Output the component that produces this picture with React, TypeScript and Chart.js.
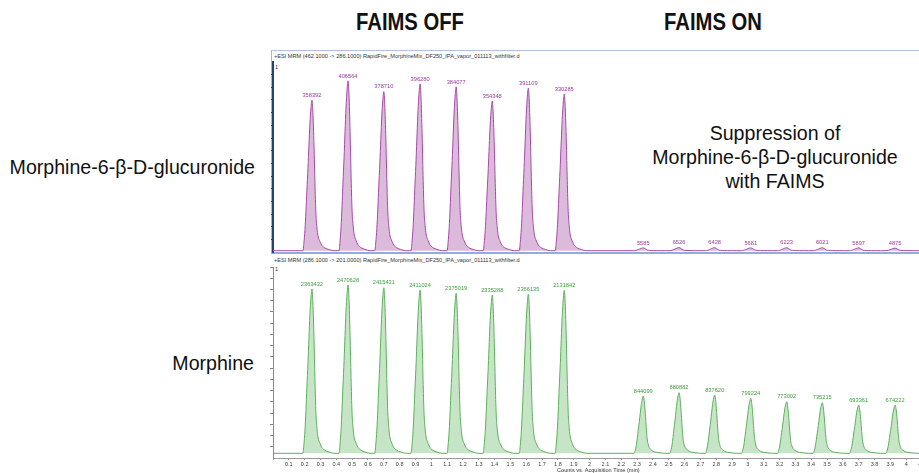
import React, { useEffect, useRef } from "react";
import { Chart, registerables } from "chart.js";

Chart.register(...registerables);

// ---- Data ----
const X_MIN = 0;
const X_MAX = 4.1;
const X_TICK_STEP = 0.1;

// retention times (min) of injections
const PEAK_TIMES_OFF = [0.246, 0.474, 0.7, 0.929, 1.157, 1.385, 1.613, 1.84];
const PEAK_TIMES_ON = [2.339, 2.565, 2.79, 3.018, 3.245, 3.47, 3.7, 3.93];

// Morphine-6-β-D-glucuronide (462.1 -> 286.1)
const M6G_HEIGHTS_OFF = [350000, 395000, 370000, 388000, 381000, 348000, 378000, 364000];
const M6G_LABELS_OFF = ["358392", "406564", "378710", "396280", "384077", "354348", "391109", "330285"];
const M6G_HEIGHTS_ON = [6500, 7200, 7000, 6500, 6900, 6800, 6600, 5800];
const M6G_LABELS_ON = ["5585", "6526", "6428", "5681", "6223", "6021", "5897", "4875"];

// Morphine (286.1 -> 201.0)
const MOR_HEIGHTS_OFF = [2143000, 2195000, 2160000, 2130000, 2087000, 2065000, 2074000, 2126000];
const MOR_LABELS_OFF = ["2363432", "2470628", "2415431", "2411024", "2375019", "2335288", "2366135", "2131842"];
const MOR_HEIGHTS_ON = [747000, 790000, 760000, 717000, 673000, 660000, 630000, 630000];
const MOR_LABELS_ON = ["844099", "880882", "837620", "799224", "773002", "735215", "693361", "674222"];

// peak profile (time offset in min, relative intensity)
const SHAPE_DT = [-0.057, -0.051, -0.044, -0.038, -0.032, -0.025, -0.019, -0.013, -0.006, 0, 0.006, 0.013, 0.019, 0.025, 0.032, 0.038, 0.051, 0.063, 0.082, 0.107, 0.139];
const SHAPE_REL = [0, 0.05, 0.14, 0.26, 0.4, 0.55, 0.7, 0.84, 0.95, 1, 0.92, 0.7, 0.45, 0.25, 0.15, 0.1, 0.06, 0.035, 0.018, 0.008, 0];

// y-axis ranges (counts)
const M6G_Y_MIN = -3023;
const M6G_Y_MAX = 438837;
const M6G_Y_STEP = 30000;
const MOR_Y_MIN = -61300;
const MOR_Y_MAX = 2430000;
const MOR_Y_STEP = 150000;

const TOP_HEADER = "+ESI MRM (462.1000 -> 286.1000) RapidFire_MorphineMix_DF250_IPA_vapor_011113_withfilter.d";
const BOTTOM_HEADER = "+ESI MRM (286.1000 -> 201.0000) RapidFire_MorphineMix_DF250_IPA_vapor_011113_withfilter.d";
const X_TITLE = "Counts vs. Acquisition Time (min)";

type Peak = { t: number; h: number; text: string };

function makePeaks(times: number[], heights: number[], labels: string[]): Peak[] {
  return times.map((t, i) => ({ t, h: heights[i], text: labels[i] }));
}

function buildTrace(peaks: Peak[]) {
  const pts: { x: number; y: number }[] = [{ x: X_MIN, y: 0 }];
  peaks.forEach((p) => {
    SHAPE_DT.forEach((dt, k) => pts.push({ x: p.t + dt, y: p.h * SHAPE_REL[k] }));
  });
  pts.push({ x: X_MAX, y: 0 });
  pts.sort((a, b) => a.x - b.x);
  return pts;
}

const TEXT_FONT = "'Liberation Sans', Arial, sans-serif";

function peakLabelPlugin(peaks: Peak[], color: string) {
  return {
    id: "peakLabels",
    afterDatasetsDraw(chart: any) {
      const { ctx, scales } = chart;
      ctx.save();
      ctx.font = `5.7px ${TEXT_FONT}`;
      ctx.fillStyle = color;
      ctx.textAlign = "center";
      ctx.textBaseline = "bottom";
      peaks.forEach((p) => {
        const x = scales.x.getPixelForValue(p.t);
        const y = scales.y.getPixelForValue(p.h);
        ctx.fillText(p.text, x, y - 2);
      });
      ctx.restore();
    },
  };
}

function fmtTick(v: number) {
  if (Math.abs(v) < 1e-9) return "";
  return String(Number(v.toFixed(1)));
}

function useChart(
  ref: React.RefObject<HTMLCanvasElement>,
  build: (c: HTMLCanvasElement) => Chart
) {
  useEffect(() => {
    if (!ref.current) return;
    const ch = build(ref.current);
    return () => ch.destroy();
  }, []);
}

export default function App() {
  const topRef = useRef<HTMLCanvasElement>(null);
  const botRef = useRef<HTMLCanvasElement>(null);

  useEffect(() => {
    document.body.style.margin = "0";
  }, []);

  useChart(topRef as any, (c) => {
    const peaks = [
      ...makePeaks(PEAK_TIMES_OFF, M6G_HEIGHTS_OFF, M6G_LABELS_OFF),
      ...makePeaks(PEAK_TIMES_ON, M6G_HEIGHTS_ON, M6G_LABELS_ON),
    ];
    return new Chart(c, {
      type: "line",
      data: {
        datasets: [
          {
            data: buildTrace(peaks),
            borderColor: "#a64aa6",
            backgroundColor: "#dcbadc",
            fill: "origin",
            borderWidth: 1,
            pointRadius: 0,
            cubicInterpolationMode: "monotone",
          },
        ],
      },
      options: {
        animation: false,
        responsive: false,
        devicePixelRatio: 1,
        events: [],
        layout: { padding: { left: 0, right: 12, top: 4, bottom: 2 } },
        plugins: { legend: { display: false }, tooltip: { enabled: false } },
        scales: {
          x: { type: "linear", min: X_MIN, max: X_MAX, display: false },
          y: {
            type: "linear",
            min: M6G_Y_MIN,
            max: M6G_Y_MAX,
            border: { color: "#23407a", width: 2 },
            grid: { drawOnChartArea: false, tickLength: 2, color: "#23407a" },
            ticks: { display: false, stepSize: M6G_Y_STEP },
            afterBuildTicks: (s: any) => {
              s.ticks = s.ticks.filter((t: any) => t.value >= 0 && t.value < M6G_Y_MAX - 1000);
            },
            afterFit: (s: any) => {
              s.width = 11;
            },
          },
        },
      } as any,
      plugins: [peakLabelPlugin(peaks, "#9a3a9a")],
    });
  });

  useChart(botRef as any, (c) => {
    const peaks = [
      ...makePeaks(PEAK_TIMES_OFF, MOR_HEIGHTS_OFF, MOR_LABELS_OFF),
      ...makePeaks(PEAK_TIMES_ON, MOR_HEIGHTS_ON, MOR_LABELS_ON),
    ];
    return new Chart(c, {
      type: "line",
      data: {
        datasets: [
          {
            data: buildTrace(peaks),
            borderColor: "#5cb05c",
            backgroundColor: "#c6e5c6",
            fill: "origin",
            borderWidth: 1,
            pointRadius: 0,
            cubicInterpolationMode: "monotone",
          },
        ],
      },
      options: {
        animation: false,
        responsive: false,
        devicePixelRatio: 1,
        events: [],
        layout: { padding: { left: 0, right: 12, top: 5, bottom: 0 } },
        plugins: { legend: { display: false }, tooltip: { enabled: false } },
        scales: {
          x: {
            type: "linear",
            min: X_MIN,
            max: X_MAX,
            border: { color: "#9a9a9a", width: 1 },
            grid: { drawOnChartArea: false, tickLength: 2, color: "#9a9a9a" },
            ticks: {
              stepSize: X_TICK_STEP,
              autoSkip: false,
              maxRotation: 0,
              padding: 1,
              color: "#444",
              font: { size: 5.5, family: TEXT_FONT },
              callback: (v: any) => fmtTick(Number(v)),
            },
            afterFit: (s: any) => {
              s.height = 15;
            },
          },
          y: {
            type: "linear",
            min: MOR_Y_MIN,
            max: MOR_Y_MAX,
            border: { color: "#8a8a8a", width: 1 },
            grid: { drawOnChartArea: false, tickLength: 3, color: "#8a8a8a" },
            ticks: { display: false, stepSize: MOR_Y_STEP },
            afterBuildTicks: (s: any) => {
              s.ticks = s.ticks.filter((t: any) => t.value >= 0 && t.value < MOR_Y_MAX + 1);
            },
            afterFit: (s: any) => {
              s.width = 11;
            },
          },
        },
      } as any,
      plugins: [peakLabelPlugin(peaks, "#3e9c3e")],
    });
  });

  const abs = (s: React.CSSProperties): React.CSSProperties => ({ position: "absolute", ...s });
  const bigText: React.CSSProperties = {
    fontFamily: TEXT_FONT,
    fontSize: 19.6,
    color: "#111",
    whiteSpace: "nowrap",
    lineHeight: "24px",
  };
  const titleText: React.CSSProperties = {
    fontFamily: TEXT_FONT,
    fontWeight: "bold",
    fontSize: 23,
    color: "#111",
    whiteSpace: "nowrap",
    lineHeight: "24px",
    transform: "scaleX(0.88)",
    transformOrigin: "center",
  };
  const smallText: React.CSSProperties = {
    fontFamily: TEXT_FONT,
    fontSize: 5.6,
    color: "#333",
    whiteSpace: "nowrap",
    lineHeight: "7px",
  };

  return (
    <div
      style={{
        position: "fixed",
        left: 0,
        top: 0,
        width: 919,
        height: 473,
        overflow: "hidden",
        background: "#fff",
      }}
    >
      <div style={abs({ left: 260, top: 10, width: 300, textAlign: "center", ...titleText })}>FAIMS OFF</div>
      <div style={abs({ left: 563, top: 10, width: 300, textAlign: "center", ...titleText })}>FAIMS ON</div>

      <div style={abs({ right: 919 - 255, top: 155, textAlign: "right", ...bigText })}>Morphine-6-β-D-glucuronide</div>
      <div style={abs({ right: 919 - 254, top: 351, textAlign: "right", ...bigText })}>Morphine</div>

      <div style={abs({ left: 625, top: 121, width: 300, textAlign: "center", ...bigText })}>
        Suppression of
        <br />
        Morphine-6-β-D-glucuronide
        <br />
        with FAIMS
      </div>

      {/* top panel frame */}
      <div
        style={abs({
          left: 271,
          top: 50,
          width: 700,
          height: 201,
          borderTop: "1px solid #b2c2dc",
          borderLeft: "1px solid #9fb6de",
          borderBottom: "2px solid #93acd9",
        })}
      />
      <div style={abs({ left: 274, top: 53, ...smallText })}>{TOP_HEADER}</div>
      <div style={abs({ left: 275, top: 64, ...smallText })}>1</div>
      <canvas ref={topRef} width={672} height={196} style={abs({ left: 262, top: 58 })} />

      <div style={abs({ left: 274, top: 257, ...smallText })}>{BOTTOM_HEADER}</div>
      <div style={abs({ left: 275, top: 266, ...smallText })}>1</div>
      <canvas ref={botRef} width={672} height={211} style={abs({ left: 262, top: 262 })} />

      <div style={abs({ left: 557, top: 467, ...smallText })}>{X_TITLE}</div>
    </div>
  );
}
